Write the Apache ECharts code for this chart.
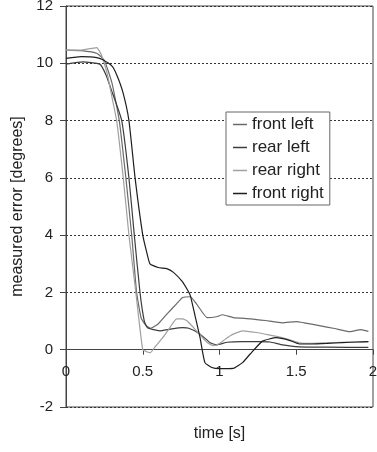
<!DOCTYPE html>
<html><head><meta charset="utf-8">
<script src="https://cdn.jsdelivr.net/npm/echarts@6/dist/echarts.min.js"></script>
<style>html,body{margin:0;padding:0;background:#fff}#c{width:377px;height:452px}</style>
</head><body><div id="c"></div>
<script>
var seriesNames = ['front left', 'rear left', 'rear right', 'front right'];
var yTicks = [-2, 0, 2, 4, 6, 8, 10, 12];
var xTicks = [0, 0.5, 1, 1.5, 2];

var frontLeft = [[0,10.46],[0.1,10.44],[0.2,10.35],[0.25,10.1],[0.3,9.3],[0.347,8.0],[0.39,6.0],[0.428,4.0],[0.46,2.0],[0.49,1.1],[0.52,0.85],[0.55,0.75],[0.6,0.9],[0.66,1.26],[0.72,1.6],[0.76,1.82],[0.81,1.85],[0.85,1.6],[0.92,1.12],[0.98,1.15],[1.02,1.22],[1.09,1.12],[1.2,1.08],[1.3,1.02],[1.41,0.94],[1.5,0.98],[1.55,0.94],[1.65,0.84],[1.75,0.74],[1.85,0.63],[1.92,0.7],[1.97,0.64]];
var rearLeft = [[0,9.97],[0.11,10.05],[0.22,9.97],[0.26,9.6],[0.3,9.0],[0.363,8.0],[0.41,6.0],[0.445,4.0],[0.482,2.0],[0.51,1.0],[0.53,0.77],[0.57,0.7],[0.61,0.66],[0.68,0.72],[0.76,0.77],[0.8,0.75],[0.87,0.56],[0.94,0.24],[0.98,0.17],[1.05,0.26],[1.15,0.28],[1.25,0.28],[1.33,0.27],[1.4,0.18],[1.52,0.1],[1.7,0.09],[1.97,0.08]];
var rearRight = [[0,10.46],[0.1,10.46],[0.17,10.52],[0.2,10.55],[0.23,10.3],[0.27,9.6],[0.3,8.8],[0.33,8.0],[0.373,6.0],[0.41,4.0],[0.455,2.0],[0.5,0.0],[0.53,-0.08],[0.55,-0.1],[0.58,0.1],[0.63,0.42],[0.68,0.8],[0.72,1.08],[0.76,1.08],[0.79,1.0],[0.85,0.66],[0.92,0.25],[0.96,0.14],[1.0,0.22],[1.07,0.49],[1.15,0.66],[1.24,0.6],[1.32,0.52],[1.41,0.42],[1.52,0.24],[1.6,0.22],[1.7,0.24],[1.8,0.26],[1.97,0.28]];
var frontRight = [[0,10.17],[0.1,10.23],[0.2,10.2],[0.24,10.12],[0.3,9.9],[0.33,9.6],[0.37,9.0],[0.41,8.0],[0.45,6.0],[0.5,4.0],[0.526,3.4],[0.547,3.0],[0.6,2.87],[0.656,2.83],[0.7,2.7],[0.754,2.4],[0.79,2.1],[0.81,1.89],[0.84,1.2],[0.873,0.43],[0.905,-0.45],[0.95,-0.62],[1.0,-0.66],[1.09,-0.65],[1.15,-0.45],[1.2,-0.15],[1.28,0.3],[1.37,0.42],[1.46,0.32],[1.52,0.2],[1.6,0.2],[1.7,0.22],[1.8,0.25],[1.9,0.27],[1.97,0.28]];

var seriesData = [frontLeft, rearLeft, rearRight, frontRight];
var seriesColors = ['#6a6a6a', '#3c3c3c', '#a0a0a0', '#1e1e1e'];

var chart = echarts.init(document.getElementById('c'), null, {renderer: 'canvas'});
var font = 'Liberation Sans, Arial, sans-serif';
var yMin = yTicks[0], yMax = yTicks[yTicks.length - 1];
chart.setOption({
  animation: false,
  backgroundColor: '#fff',
  grid: {left: 66, right: 4, top: 6, bottom: 45, containLabel: false, outerBoundsMode: 'none',
         show: true, borderColor: '#444', borderWidth: 1, backgroundColor: 'transparent'},
  legend: {
    data: seriesNames.map(function (n) { return {name: n, icon: 'rect'}; }),
    orient: 'vertical', left: 226, top: 112,
    backgroundColor: '#fff', borderColor: '#666', borderWidth: 1, borderRadius: 0,
    padding: [4, 6, 3, 7], itemGap: 6, itemWidth: 14, itemHeight: 1.5,
    textStyle: {fontFamily: font, fontSize: 17, color: '#222', lineHeight: 17}
  },
  xAxis: {
    type: 'value', min: xTicks[0], max: xTicks[xTicks.length-1], interval: 0.5,
    axisLine: {onZero: false, lineStyle: {color: '#444', width: 1}},
    axisTick: {show: true, length: 5, lineStyle: {color: '#444'}},
    axisLabel: {fontFamily: font, fontSize: 15, color: '#222', margin: 15, showMaxLabel: true},
    splitLine: {show: false},
    name: 'time [s]', nameLocation: 'middle', nameGap: 76,
    nameTextStyle: {fontFamily: font, fontSize: 16, color: '#222'}
  },
  yAxis: {
    type: 'value', min: yMin, max: yMax, interval: 2,
    axisLine: {show: true, onZero: false, lineStyle: {color: '#444', width: 1}},
    axisTick: {show: true, length: 6, lineStyle: {color: '#444'}},
    axisLabel: {fontFamily: font, fontSize: 15, color: '#222', margin: 13},
    splitLine: {show: true, lineStyle: {color: '#333', type: [2, 2], width: 1}},
    name: 'measured error [degrees]', nameLocation: 'middle', nameGap: 40,
    nameTextStyle: {fontFamily: font, fontSize: 16, color: '#222'}
  },
  series: seriesNames.map(function (n, i) {
    return {
      name: n, type: 'line', data: seriesData[i], symbol: 'none', smooth: 0.15,
      lineStyle: {color: seriesColors[i], width: 1.2}, itemStyle: {color: seriesColors[i]}
    };
  })
});
// place the x axis on the y = 0 line using the library's own scale
var zeroPx = chart.convertToPixel({yAxisIndex: 0}, 0);
var bottomPx = chart.convertToPixel({yAxisIndex: 0}, yMin);
chart.setOption({xAxis: {offset: zeroPx - bottomPx, nameGap: 76}});
</script></body></html>
